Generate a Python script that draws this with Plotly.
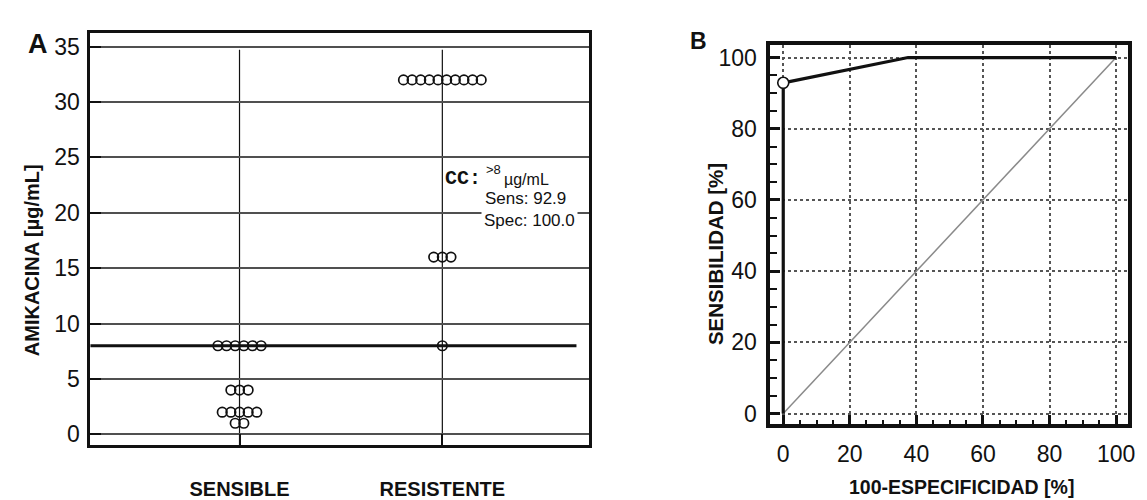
import plotly.graph_objects as go
from collections import Counter

# ---------------- data ----------------
categories = ["SENSIBLE", "RESISTENTE"]
sensible_mic = [8, 8, 8, 8, 8, 8, 4, 4, 4, 2, 2, 2, 2, 2, 1, 1]
resistente_mic = [32, 32, 32, 32, 32, 32, 32, 32, 32, 32, 16, 16, 16, 8]
cutoff = 8
sens_value = 92.9
spec_value = 100.0
y_ticks_a = [0, 5, 10, 15, 20, 25, 30, 35]

roc_fpr = [0, 0, 0, 37.5, 100]
roc_sens = [0, 71.4, 92.9, 100, 100]
ref_line = [0, 100]
cut_point_fpr = [0]
cut_point_sens = [92.9]
ticks_b = [0, 20, 40, 60, 80, 100]

W, H = 1147, 500
FONT = "Liberation Sans, Arial, sans-serif"


def px(x, y):
    return x / W, 1 - y / H


def dot_positions(values, center, step=0.0426):
    cnt = Counter(values)
    xs, ys = [], []
    for v, k in cnt.items():
        for i in range(k):
            xs.append(center + (i - (k - 1) / 2) * step)
            ys.append(v)
    return xs, ys


fig = go.Figure()

# ---- panel A: dot plot ----
for ci, vals in enumerate([sensible_mic, resistente_mic]):
    xs, ys = dot_positions(vals, ci)
    fig.add_trace(go.Scatter(
        x=xs, y=ys, mode="markers", xaxis="x", yaxis="y",
        marker=dict(symbol="circle-open", size=9.5, color="#111",
                    line=dict(width=1.7, color="#111")),
        showlegend=False, hoverinfo="y"))

# ---- panel B: ROC ----
fig.add_trace(go.Scatter(
    x=ref_line, y=ref_line, mode="lines", xaxis="x2", yaxis="y2",
    line=dict(color="#8a8a8a", width=1.5), showlegend=False))
fig.add_trace(go.Scatter(
    x=roc_fpr, y=roc_sens, mode="lines", xaxis="x2", yaxis="y2",
    line=dict(color="#111", width=3.2), showlegend=False))
fig.add_trace(go.Scatter(
    x=cut_point_fpr, y=cut_point_sens, mode="markers", xaxis="x2", yaxis="y2",
    marker=dict(symbol="circle", size=11, color="white",
                line=dict(width=1.6, color="#111")),
    showlegend=False))

# domains
ax_l, ax_r, ax_t, ax_b = 91, 593, 33, 448
bx_l, bx_r, bx_t, bx_b = 775, 1135, 45, 427

tickfont = dict(family=FONT, size=23, color="#111")

fig.update_layout(
    width=W, height=H,
    margin=dict(l=0, r=0, t=0, b=0),
    paper_bgcolor="white", plot_bgcolor="white",
    xaxis=dict(
        domain=[ax_l / W, ax_r / W], anchor="y",
        range=[-0.735, 1.725],
        tickmode="array", tickvals=[0, 1], ticktext=categories,
        tickfont=dict(family=FONT, size=20, color="#111", weight="bold"),
        ticks="inside", ticklen=11, tickwidth=2, tickcolor="#111",
        ticklabelstandoff=24,
        showgrid=False, zeroline=False,
        showline=True, linewidth=3, linecolor="#111", mirror=True),
    yaxis=dict(
        domain=[1 - ax_b / H, 1 - ax_t / H], anchor="x",
        range=[-0.99, 36.25],
        tickmode="array", tickvals=y_ticks_a,
        tickfont=tickfont,
        ticks="inside", ticklen=11, tickwidth=2, tickcolor="#111",
        ticklabelstandoff=3,
        showgrid=True, gridcolor="#505050", gridwidth=2,
        zeroline=False,
        showline=True, linewidth=3, linecolor="#111", mirror=True),
    xaxis2=dict(
        domain=[bx_l / W, bx_r / W], anchor="y2",
        range=[-3.9, 103.6],
        tickmode="array", tickvals=ticks_b,
        tickfont=tickfont,
        ticks="inside", ticklen=10, tickwidth=2.5, tickcolor="#111",
        minor=dict(dtick=5, ticks="inside", ticklen=5, tickwidth=1.5,
                   tickcolor="#111", showgrid=False),
        ticklabelstandoff=6,
        showgrid=True, gridcolor="#555", gridwidth=2, griddash="dot",
        zeroline=False,
        showline=True, linewidth=3.5, linecolor="#111", mirror=True),
    yaxis2=dict(
        domain=[1 - bx_b / H, 1 - bx_t / H], anchor="x2",
        range=[-3.07, 103.6],
        tickmode="array", tickvals=ticks_b,
        tickfont=tickfont,
        ticks="inside", ticklen=10, tickwidth=2.5, tickcolor="#111",
        minor=dict(dtick=5, ticks="inside", ticklen=7, tickwidth=1.5,
                   tickcolor="#111", showgrid=False),
        ticklabelstandoff=5,
        showgrid=True, gridcolor="#555", gridwidth=2, griddash="dot",
        zeroline=False,
        showline=True, linewidth=3.5, linecolor="#111", mirror=True),
)

# category vertical lines and cutoff line in panel A
shapes = []
for ci in range(len(categories)):
    shapes.append(dict(type="line", xref="x", yref="y domain",
                       x0=ci, x1=ci, y0=0, y1=(ax_b - 50) / (ax_b - ax_t),
                       line=dict(color="#111", width=1.2), layer="below"))
shapes.append(dict(type="line", xref="x domain", yref="y",
                   x0=0, x1=(580 - ax_l) / (ax_r - ax_l), y0=cutoff, y1=cutoff,
                   line=dict(color="#111", width=3), layer="below"))
fig.update_layout(shapes=shapes)


def label(xp, yp, text, font, xanchor="center", **kw):
    x, y = px(xp, yp)
    return dict(x=x, y=y, xref="paper", yref="paper", text=text,
                xanchor=xanchor, yanchor="middle", showarrow=False,
                font=font, **kw)


ann = [
    label(38, 44, "<b>A</b>", dict(family=FONT, size=27, color="#111")),
    label(703, 41, "<b>B</b>", dict(family=FONT, size=23, color="#111")),
    label(33, 262, "<b>AMIKACINA [µg/mL]</b>",
          dict(family=FONT, size=20, color="#111"), textangle=-90),
    label(720, 256, "<b>SENSIBILIDAD [%]</b>",
          dict(family=FONT, size=20.5, color="#111"), textangle=-90),
    label(967, 490, "<b>100-ESPECIFICIDAD [%]</b>",
          dict(family=FONT, size=19.5, color="#111")),
    label(446, 180, "CC:",
          dict(family="Liberation Mono, DejaVu Sans Mono, monospace",
               size=20, color="#111", weight="bold"), xanchor="left"),
    label(487, 171, f"&gt;{cutoff}",
          dict(family=FONT, size=13, color="#111"), xanchor="left"),
    label(505, 181, "µg/mL",
          dict(family=FONT, size=16, color="#111"), xanchor="left"),
    label(486, 200, f"Sens: {sens_value:.1f}",
          dict(family=FONT, size=17, color="#111"), xanchor="left"),
    label(484, 222, f"Spec: {spec_value:.1f}",
          dict(family=FONT, size=17, color="#111"), xanchor="left",
          bgcolor="white", borderpad=2),
]
fig.update_layout(annotations=ann)

fig.write_html("out.html")
